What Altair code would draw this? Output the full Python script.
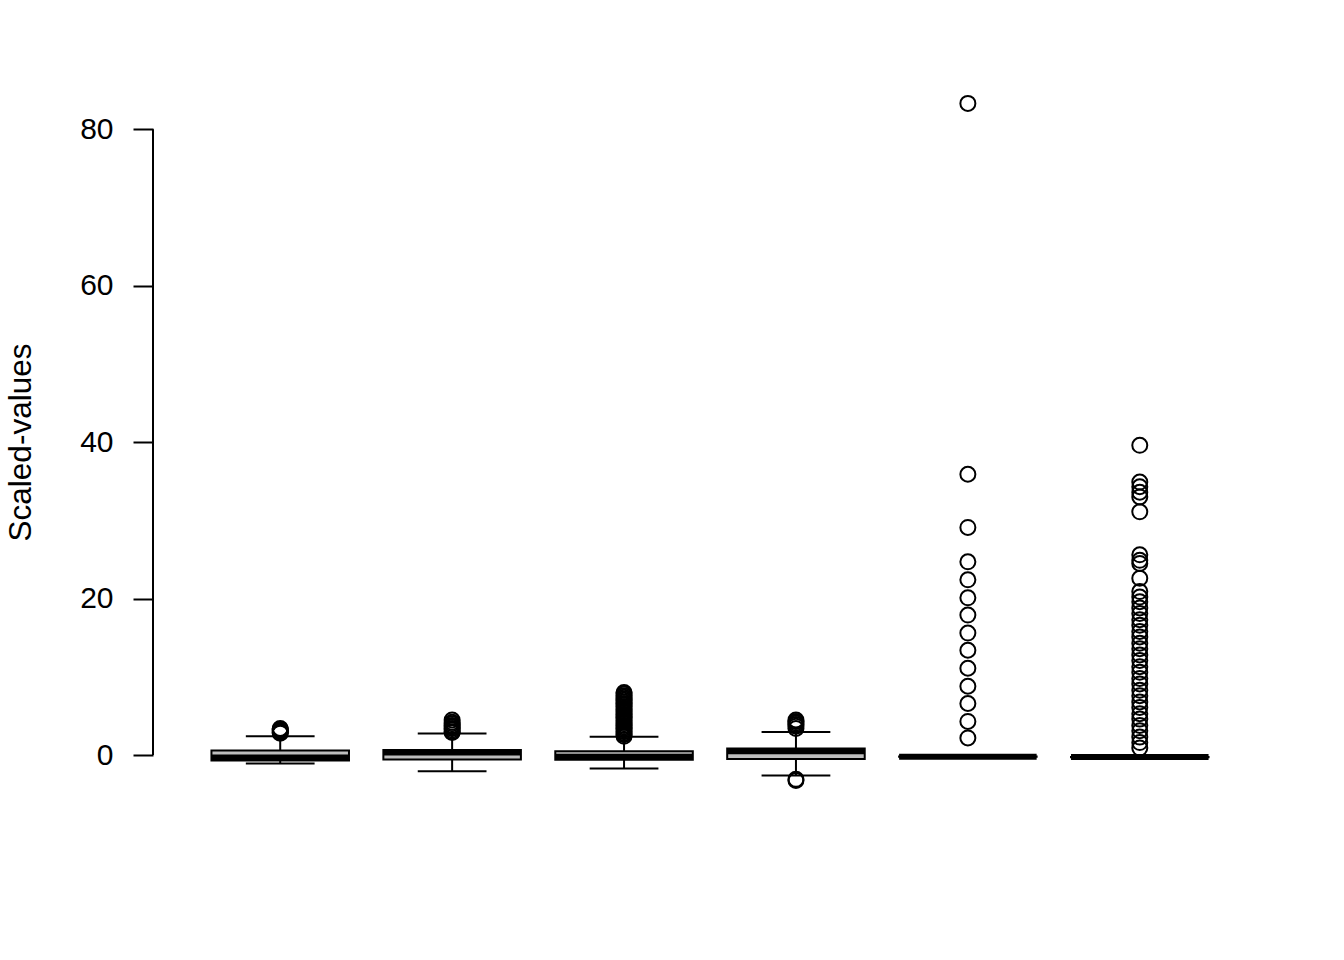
import altair as alt
import pandas as pd

# Box statistics (group positions 1..6)
positions = [1, 2, 3, 4, 5, 6]
q1 = [-0.68, -0.55, -0.60, -0.50, -0.22, -0.27]
median = [-0.30, 0.32, -0.20, 0.50, -0.20, -0.25]
q3 = [0.60, 0.64, 0.50, 0.85, -0.18, -0.23]
whisker_low = [-1.06, -2.05, -1.70, -2.60, -0.22, -0.27]
whisker_high = [2.40, 2.77, 2.35, 2.94, -0.18, -0.23]

out1 = [2.8, 2.9, 3.0, 3.1, 3.2, 3.3, 3.4]
out2 = [2.9, 3.0, 3.2, 3.4, 3.6, 3.8, 4.0, 4.2, 4.5]
out3 = [2.4, 2.6, 2.8, 3.0, 3.2, 3.4, 3.6, 3.8, 4.0, 4.2, 4.4, 4.6, 4.8, 5.0,
        5.2, 5.4, 5.6, 5.8, 6.0, 6.2, 6.4, 6.6, 6.8, 7.0, 7.2, 7.4, 7.6, 7.8, 8.0]
out4 = [3.4, 3.7, 3.9, 4.1, 4.3, 4.5, -3.1, -3.25]
out5 = [83.3, 35.9, 29.1, 24.7, 22.4, 20.1, 17.9, 15.6, 13.4, 11.1, 8.8, 6.6, 4.3, 2.2]
out6 = [39.6, 34.9, 34.3, 33.6, 33.0, 31.1, 25.6, 24.9, 24.5, 22.6, 20.9, 20.2,
        19.6, 18.8, 18.1, 17.3, 16.6, 15.8, 15.1, 14.3, 13.6, 12.8, 12.1, 11.3,
        10.6, 9.8, 9.1, 8.3, 7.6, 6.8, 6.1, 5.3, 4.6, 3.8, 3.1, 2.3, 1.6, 0.9]
outliers = [out1, out2, out3, out4, out5, out6]

y_ticks = [0, 20, 40, 60, 80]

stats = pd.DataFrame({
    "pos": positions, "q1": q1, "median": median, "q3": q3,
    "wlo": whisker_low, "whi": whisker_high,
})
out_df = pd.DataFrame(
    [{"pos": p, "value": v} for p, vals in zip(positions, outliers) for v in vals]
)

xscale = alt.Scale(domain=[0.26, 6.74], nice=False, zero=False)
yscale = alt.Scale(domain=[-6.76, 86.8], nice=False, zero=False)

base = alt.Chart(stats).transform_calculate(
    left="datum.pos - 0.4", right="datum.pos + 0.4",
    sl="datum.pos - 0.2", sr="datum.pos + 0.2",
)

yaxis = alt.Axis(
    values=y_ticks, domain=False, grid=False, tickSize=20, tickWidth=2,
    tickColor="black", labelFontSize=30, labelFont="Liberation Sans",
    labelColor="black", labelPadding=20, title="Scaled-values",
    titleFontSize=31.5, titleFont="Liberation Sans", titleFontWeight="normal",
    titleColor="black", titleX=-132, titleY=366, titleAngle=-90,
    titleAlign="center", titleBaseline="middle",
)

boxes = base.mark_rect(fill="#BEBEBE", stroke="black", strokeWidth=2).encode(
    x=alt.X("left:Q", scale=xscale, axis=None),
    x2="right:Q",
    y=alt.Y("q1:Q", scale=yscale, axis=yaxis),
    y2="q3:Q",
)

medians = base.mark_rule(color="black", strokeWidth=6).encode(
    x=alt.X("left:Q", scale=xscale, axis=None), x2="right:Q",
    y=alt.Y("median:Q", scale=yscale),
)

whisk_up = base.mark_rule(color="black", strokeWidth=2).encode(
    x=alt.X("pos:Q", scale=xscale, axis=None),
    y=alt.Y("q3:Q", scale=yscale), y2="whi:Q",
)
whisk_dn = base.mark_rule(color="black", strokeWidth=2).encode(
    x=alt.X("pos:Q", scale=xscale, axis=None),
    y=alt.Y("q1:Q", scale=yscale), y2="wlo:Q",
)
staple_up = base.mark_rule(color="black", strokeWidth=2).encode(
    x=alt.X("sl:Q", scale=xscale, axis=None), x2="sr:Q",
    y=alt.Y("whi:Q", scale=yscale),
)
staple_dn = base.mark_rule(color="black", strokeWidth=2).encode(
    x=alt.X("sl:Q", scale=xscale, axis=None), x2="sr:Q",
    y=alt.Y("wlo:Q", scale=yscale),
)

points = alt.Chart(out_df).mark_point(
    shape="circle", filled=False, color="black", size=225, strokeWidth=2, opacity=1
).encode(
    x=alt.X("pos:Q", scale=xscale, axis=None),
    y=alt.Y("value:Q", scale=yscale),
)

axis_line = alt.Chart(pd.DataFrame({"lo": [y_ticks[0]], "hi": [y_ticks[-1]]})).mark_rule(
    color="black", strokeWidth=2
).encode(
    x=alt.value(0),
    y=alt.Y("lo:Q", scale=yscale),
    y2="hi:Q",
)

chart = alt.layer(
    boxes, medians, whisk_up, whisk_dn, staple_up, staple_dn, points, axis_line
).properties(
    width=1114, height=732,
    padding={"left": 153, "top": 76, "right": 77, "bottom": 152},
    autosize=alt.AutoSizeParams(type="none"),
    background="white",
).configure_view(stroke=None)

chart.save("out.html", embed_options={"renderer": "svg", "actions": False})
